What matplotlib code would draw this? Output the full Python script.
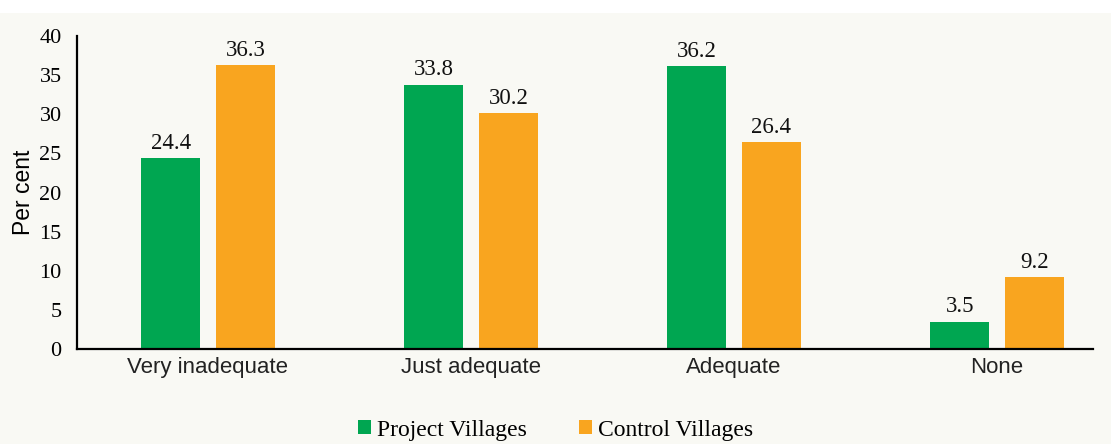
import numpy as np
import matplotlib.pyplot as plt
from matplotlib.patches import Rectangle

categories = ['Very inadequate', 'Just adequate', 'Adequate', 'None']
project = [24.4, 33.8, 36.2, 3.5]
control = [36.3, 30.2, 26.4, 9.2]

green = '#00a651'
orange = '#f9a51f'
bg = '#f9f9f4'

fig = plt.figure(figsize=(11.11, 4.44), dpi=100)
fig.patch.set_facecolor(bg)
# white strip at the top (title band cut off)
fig.patches.append(Rectangle((0, 1 - 13 / 444), 1, 13 / 444, transform=fig.transFigure,
                             facecolor='white', edgecolor='none', zorder=0))

ax = fig.add_axes([77 / 1111, 95 / 444, 1016 / 1111, 313 / 444])
ax.set_facecolor(bg)

x = np.arange(len(categories))
w = 0.224
off = 0.142
b1 = ax.bar(x - off, project, w, color=green, label='Project Villages')
b2 = ax.bar(x + off, control, w, color=orange, label='Control Villages')

for bars, vals in ((b1, project), (b2, control)):
    for bar, v in zip(bars, vals):
        ax.annotate(f'{v:.1f}', (bar.get_x() + bar.get_width() / 2, v),
                    xytext=(0, 3), textcoords='offset points', ha='center', va='bottom',
                    fontsize=16.5, family='Liberation Serif', color='#111111')

ax.set_xlim(-0.498, 3.365)
ax.set_ylim(0, 40)
ax.set_yticks(range(0, 41, 5))
ax.set_xticks(x)
ax.set_xticklabels(categories, fontsize=16, family='Liberation Sans', color='#222222')
for lab in ax.get_yticklabels():
    lab.set_family('Liberation Serif')
    lab.set_fontsize(16)
ax.tick_params(axis='y', length=0, pad=11)
ax.tick_params(axis='x', length=0, pad=6)
ax.set_ylabel('Per cent', fontsize=16.5, family='Liberation Sans', labelpad=3)

for s in ('top', 'right'):
    ax.spines[s].set_visible(False)
for s in ('left', 'bottom'):
    ax.spines[s].set_linewidth(1.6)
    ax.spines[s].set_color('black')

fig.legend(handles=[b1, b2], loc='center', bbox_to_anchor=(0.5, 1 - 430 / 444), ncol=2,
           frameon=False, prop={'family': 'Liberation Serif', 'size': 17},
           handlelength=0.55, handleheight=0.55, handletextpad=0.25, columnspacing=2.2)

fig.savefig('out.png', dpi=100, facecolor=fig.get_facecolor())
